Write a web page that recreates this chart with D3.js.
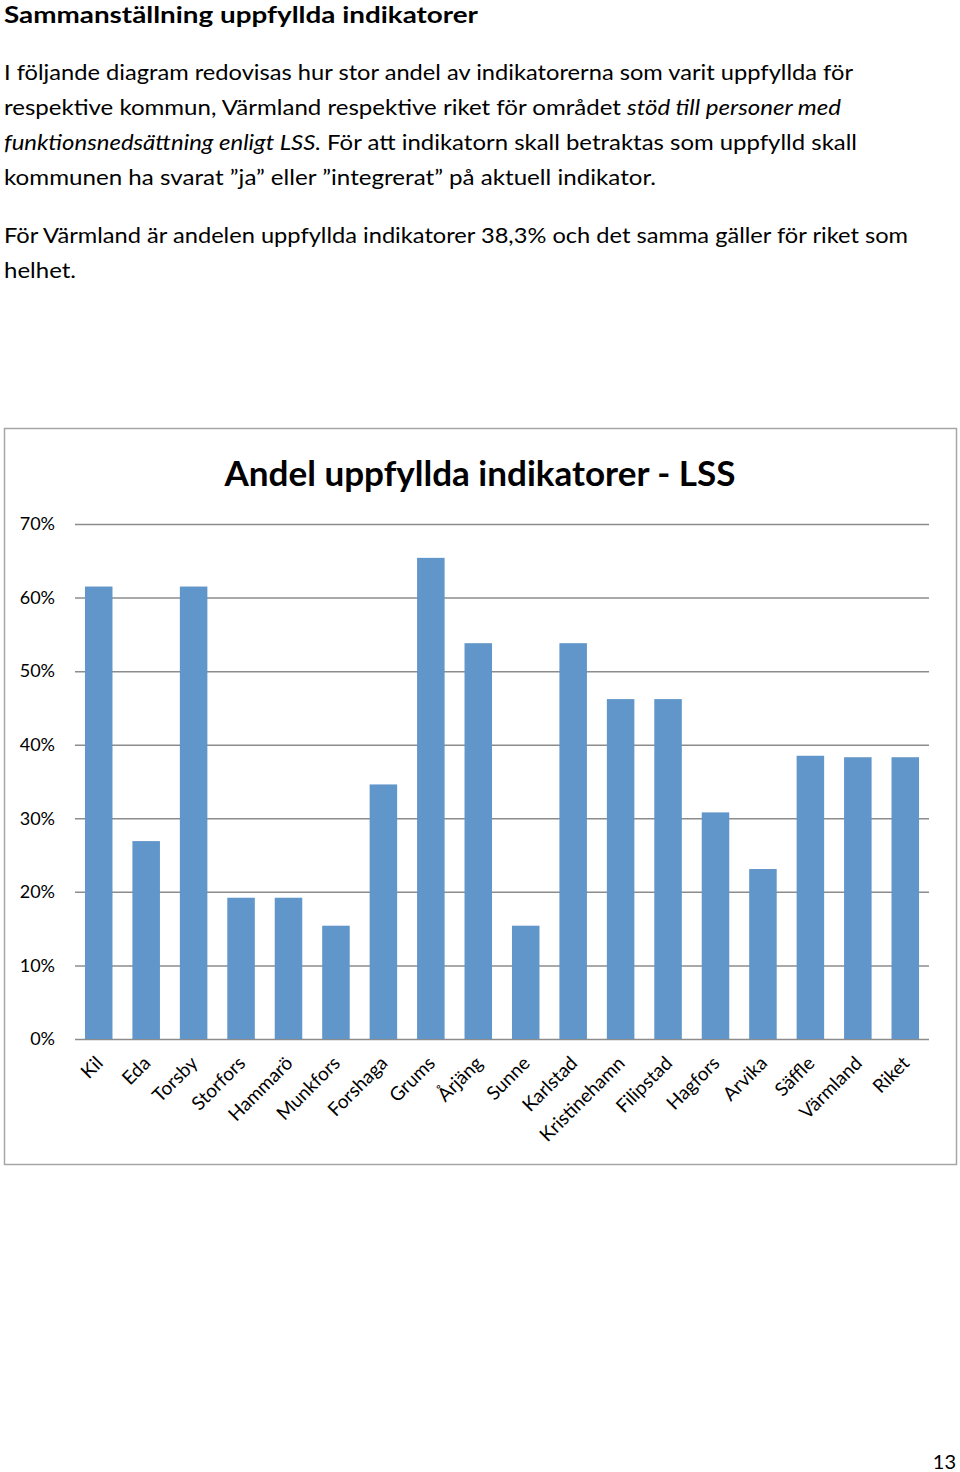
<!DOCTYPE html>
<html><head><meta charset="utf-8">
<script src="https://cdn.jsdelivr.net/npm/d3@7/dist/d3.min.js"></script>
<style>
html,body{margin:0;padding:0;background:#fff;}
svg{display:block;font-family:Lato,"Open Sans",sans-serif;}
</style></head>
<body>
<svg id="c" width="960" height="1472"></svg>
<script>
const categories = ["Kil","Eda","Torsby","Storfors","Hammarö","Munkfors","Forshaga","Grums","Årjäng","Sunne","Karlstad","Kristinehamn","Filipstad","Hagfors","Arvika","Säffle","Värmland","Riket"];
const values = [0.615,0.269,0.615,0.192,0.192,0.154,0.346,0.654,0.538,0.154,0.538,0.462,0.462,0.308,0.231,0.385,0.383,0.383];
const yTicks = [0,0.1,0.2,0.3,0.4,0.5,0.6,0.7];
const heading = "Sammanställning uppfyllda indikatorer";
const chartTitle = "Andel uppfyllda indikatorer - LSS";
const pageNumber = "13";
const paragraphLines = [
  [{t:"I följande diagram redovisas hur stor andel av indikatorerna som varit uppfyllda för"}],
  [{t:"respektive kommun, Värmland respektive riket för området "},{t:"stöd till personer med",i:true}],
  [{t:"funktionsnedsättning enligt LSS.",i:true},{t:" För att indikatorn skall betraktas som uppfylld skall"}],
  [{t:"kommunen ha svarat ”ja” eller ”integrerat” på aktuell indikator."}],
  [{t:"För Värmland är andelen uppfyllda indikatorer 38,3% och det samma gäller för riket som"}],
  [{t:"helhet."}]
];
const lineLayout = [{y:80,w:849},{y:115,w:837},{y:150,w:853},{y:185,w:652},{y:243,w:904},{y:278,w:72}];

const svg = d3.select("#c");

svg.append("text").attr("x",4).attr("y",23).attr("font-weight","bold").attr("font-size",22)
  .attr("textLength",474).attr("lengthAdjust","spacingAndGlyphs").attr("fill","#000").text(heading);

paragraphLines.forEach((ln,i)=>{
  const t = svg.append("text").attr("x",4).attr("y",lineLayout[i].y).attr("font-size",22)
    .attr("textLength",lineLayout[i].w).attr("lengthAdjust","spacingAndGlyphs").attr("fill","#000");
  ln.forEach(s=>{ t.append("tspan").attr("font-style",s.i?"italic":"normal").text(s.t); });
});

// chart frame
svg.append("rect").attr("x",4.5).attr("y",428.5).attr("width",952).attr("height",736)
  .attr("fill","#fff").attr("stroke","#a6a6a6").attr("stroke-width",1.5);

svg.append("text").attr("x",480).attr("y",486).attr("text-anchor","middle").attr("font-weight","bold")
  .attr("font-size",34).attr("textLength",511).attr("lengthAdjust","spacingAndGlyphs").text(chartTitle);

const x = d3.scaleBand().domain(categories).range([75,929]).paddingInner(0.42).paddingOuter(0.21);
const y = d3.scaleLinear().domain([0,0.7]).range([1039,524]);

const yAxis = d3.axisLeft(y).tickValues(yTicks).tickFormat(d3.format(".0%")).tickSize(-854).tickPadding(20);
const gy = svg.append("g").attr("transform","translate(75,0)").call(yAxis);
gy.select(".domain").remove();
gy.selectAll(".tick line").attr("stroke","#8c8c8c").attr("stroke-width",1.5);
gy.selectAll(".tick text").attr("font-size",18).attr("fill","#000").attr("font-family","Lato,sans-serif");

svg.append("g").selectAll("rect").data(values).join("rect")
  .attr("x",(d,i)=>x(categories[i])).attr("width",x.bandwidth())
  .attr("y",d=>y(d)).attr("height",d=>y(0)-y(d)).attr("fill","#6096c9");

svg.append("g").selectAll("text").data(categories).join("text")
  .attr("transform",d=>`translate(${x(d)+x.bandwidth()/2-4},1055) rotate(-45)`)
  .attr("text-anchor","end").attr("dy","0.7em").attr("font-size",19).attr("fill","#000").text(d=>d);

svg.append("text").attr("x",956).attr("y",1469).attr("text-anchor","end").attr("font-size",20).text(pageNumber);
</script>
</body></html>
